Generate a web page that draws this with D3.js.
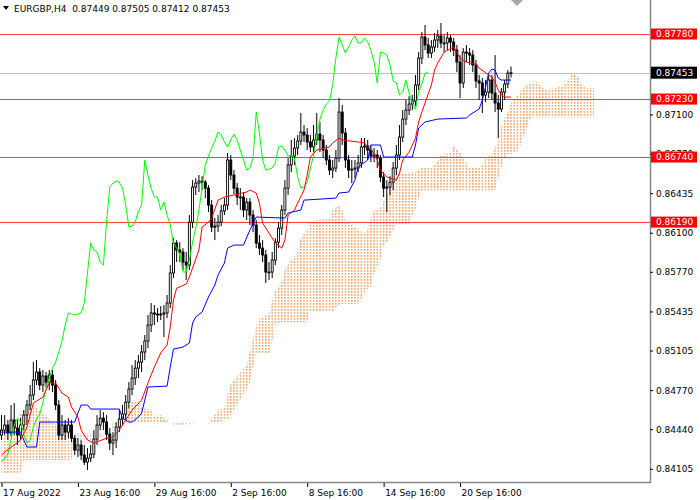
<!DOCTYPE html>
<html lang="en">
<head>
<meta charset="UTF-8">
<title>EURGBP,H4</title>
<script src="https://d3js.org/d3.v7.min.js"></script>
<style>
  body { margin: 0; background: #fff; }
  svg text { font-family: "DejaVu Sans", sans-serif; }
</style>
</head>
<body>
<div id="chart"></div>
<script>

// H4 candles, bar 0 = 17 Aug 2022 16:00 ... bar 160 = 23 Sep 08:00
var firstOpen = 0.84390;
var closes = [
  0.84432,0.84475,0.84407,0.84517,0.84449,0.84390,0.84475,0.84559,0.84644,0.84728,
  0.84855,0.84923,0.84813,0.84889,0.84838,0.84898,0.84813,0.84644,0.84390,0.84475,
  0.84415,0.84475,0.84364,0.84263,0.84306,0.84221,0.84162,0.84195,0.84229,0.84356,
  0.84475,0.84533,0.84500,0.84398,0.84323,0.84348,0.84458,0.84525,0.84567,0.84669,
  0.84779,0.84872,0.84956,0.85007,0.85092,0.85185,0.85320,0.85422,0.85413,0.85405,
  0.85413,0.85422,0.85506,0.85760,0.86013,0.85954,0.85937,0.85852,0.85827,0.86190,
  0.86486,0.86520,0.86537,0.86528,0.86477,0.86334,0.86148,0.86156,0.86190,0.86284,
  0.86334,0.86715,0.86588,0.86477,0.86402,0.86402,0.86292,0.86359,0.86250,0.86165,
  0.86013,0.85970,0.85912,0.85768,0.85768,0.85869,0.86021,0.86139,0.86292,0.86477,
  0.86673,0.86748,0.86816,0.86876,0.86951,0.86926,0.86867,0.86825,0.86884,0.86934,
  0.86884,0.86799,0.86715,0.86630,0.86647,0.86731,0.87120,0.86943,0.86715,0.86630,
  0.86638,0.86647,0.86690,0.86825,0.86833,0.86799,0.86748,0.86757,0.86731,0.86571,
  0.86477,0.86486,0.86528,0.86647,0.86757,0.86909,0.87061,0.87137,0.87188,0.87214,
  0.87349,0.87576,0.87754,0.87687,0.87619,0.87670,0.87729,0.87763,0.87704,0.87704,
  0.87746,0.87712,0.87644,0.87543,0.87366,0.87627,0.87619,0.87602,0.87518,0.87383,
  0.87366,0.87264,0.87289,0.87391,0.87281,0.87197,0.87145,0.87289,0.87357,0.87449,
  0.87453
];
var highs = [
  0.84559,0.84559,0.84517,0.84644,0.84661,0.84517,0.84533,0.84601,0.84686,0.84813,
  0.85007,0.85024,0.84956,0.84940,0.84923,0.84940,0.84940,0.84855,0.84686,0.84559,
  0.84517,0.84533,0.84517,0.84390,0.84364,0.84348,0.84306,0.84280,0.84306,0.84432,
  0.84559,0.84601,0.84584,0.84559,0.84449,0.84415,0.84500,0.84601,0.84644,0.84728,
  0.84838,0.84982,0.85024,0.85067,0.85151,0.85236,0.85405,0.85506,0.85489,0.85463,
  0.85480,0.85489,0.85574,0.85827,0.86055,0.86038,0.86021,0.85970,0.85937,0.86250,
  0.86545,0.86562,0.86588,0.86579,0.86545,0.86503,0.86376,0.86224,0.86250,0.86334,
  0.86393,0.86774,0.86757,0.86630,0.86520,0.86477,0.86444,0.86393,0.86393,0.86292,
  0.86207,0.86081,0.86038,0.85954,0.85852,0.85937,0.86055,0.86190,0.86334,0.86545,
  0.86731,0.86884,0.86900,0.86926,0.87112,0.87011,0.86985,0.86926,0.87011,0.87112,
  0.87036,0.86926,0.86842,0.86757,0.86715,0.86799,0.87238,0.87180,0.86985,0.86757,
  0.86715,0.86715,0.86757,0.86900,0.86900,0.86884,0.86842,0.86816,0.86799,0.86757,
  0.86613,0.86545,0.86579,0.86698,0.86842,0.87011,0.87137,0.87222,0.87255,0.87264,
  0.87433,0.87627,0.87796,0.87856,0.87746,0.87729,0.87788,0.87813,0.87873,0.87771,
  0.87796,0.87771,0.87746,0.87687,0.87602,0.87661,0.87687,0.87661,0.87644,0.87560,
  0.87433,0.87407,0.87391,0.87433,0.87433,0.87602,0.87264,0.87323,0.87391,0.87475,
  0.87505
];
var lows = [
  0.84348,0.84390,0.84348,0.84381,0.84390,0.84306,0.84348,0.84432,0.84475,0.84601,
  0.84686,0.84813,0.84770,0.84753,0.84787,0.84770,0.84753,0.84601,0.84348,0.84348,
  0.84348,0.84364,0.84331,0.84221,0.84204,0.84179,0.84137,0.84094,0.84162,0.84195,
  0.84306,0.84432,0.84432,0.84348,0.84263,0.84221,0.84280,0.84415,0.84475,0.84517,
  0.84618,0.84728,0.84813,0.84872,0.84923,0.85024,0.85125,0.85261,0.85320,0.85345,
  0.85362,0.85219,0.85379,0.85463,0.85717,0.85852,0.85852,0.85785,0.85700,0.85785,
  0.86139,0.86419,0.86444,0.86461,0.86393,0.86275,0.86106,0.86038,0.86106,0.86156,
  0.86250,0.86292,0.86545,0.86427,0.86334,0.86292,0.86233,0.86207,0.86165,0.86106,
  0.85970,0.85912,0.85852,0.85675,0.85700,0.85717,0.85827,0.85970,0.86081,0.86250,
  0.86419,0.86613,0.86673,0.86757,0.86842,0.86867,0.86799,0.86782,0.86782,0.86842,
  0.86782,0.86731,0.86673,0.86588,0.86562,0.86613,0.86698,0.86842,0.86647,0.86562,
  0.86520,0.86562,0.86613,0.86647,0.86757,0.86715,0.86698,0.86698,0.86647,0.86528,
  0.86402,0.86275,0.86419,0.86461,0.86588,0.86715,0.86867,0.87011,0.87095,0.87137,
  0.87171,0.87306,0.87526,0.87644,0.87576,0.87576,0.87627,0.87661,0.87661,0.87627,
  0.87644,0.87627,0.87593,0.87458,0.87238,0.87323,0.87543,0.87518,0.87458,0.87323,
  0.87222,0.87112,0.87205,0.87238,0.87222,0.87120,0.86900,0.87120,0.87222,0.87323,
  0.87412
];

// Ichimoku lines: [bar, price]
var tenkan = [[0,.84221],[1,.84246],[6,.84348],[8,.84458],[10,.84661],[13,.84711],[15,.84830],[17,.84830],
  [19,.84745],[21,.84711],[22,.84627],[24,.84542],[25,.84432],[27,.84348],[29,.84323],[33,.84364],[35,.84373],
  [37,.84432],[39,.84517],[41,.84601],[44,.84686],[46,.84830],[48,.84965],[50,.85084],[52,.85151],[53,.85303],
  [54,.85531],[55,.85632],[58,.85666],[59,.85726],[62,.85954],[63,.86148],[65,.86190],[66,.86224],[68,.86376],
  [70,.86402],[73,.86419],[77,.86444],[78,.86461],[80,.86436],[81,.86351],[82,.86182],[84,.86098],[86,.86013],
  [88,.85970],[89,.86038],[90,.86250],[92,.86292],[93,.86351],[95,.86461],[96,.86588],[97,.86740],[99,.86799],
  [103,.86825],[104,.86859],[106,.86900],[107,.86884],[112,.86867],[114,.86859],[115,.86825],[117,.86774],
  [118,.86715],[119,.86630],[121,.86571],[124,.86545],[125,.86605],[126,.86715],[128,.86782],[130,.86900],
  [131,.87036],[132,.87120],[133,.87197],[135,.87349],[136,.87475],[137,.87535],[139,.87627],[142,.87670],
  [144,.87576],[146,.87543],[149,.87526],[150,.87492],[153,.87433],[154,.87416],[155,.87374],[156,.87306],
  [157,.87264],[158,.87247],[160,.87247]];

var kijun = [[0,.84415],[6,.84415],[7,.84348],[8,.84289],[11,.84289],[12,.84500],[23,.84500],[24,.84576],
  [25,.84644],[27,.84644],[28,.84610],[37,.84610],[38,.84533],[40,.84500],[41,.84500],[43,.84542],[44,.84576],
  [45,.84686],[46,.84796],[52,.84804],[53,.84965],[54,.85117],[57,.85134],[59,.85168],[60,.85337],[61,.85388],
  [63,.85430],[65,.85557],[67,.85658],[68,.85743],[70,.85844],[71,.85970],[73,.85996],[76,.85996],[78,.86123],
  [80,.86233],[89,.86224],[90,.86267],[94,.86292],[95,.86376],[105,.86393],[106,.86436],[109,.86444],
  [111,.86545],[112,.86655],[115,.86715],[116,.86842],[119,.86842],[120,.86740],[129,.86740],[130,.86842],
  [131,.86985],[133,.87036],[137,.87061],[146,.87070],[147,.87095],[150,.87146],[151,.87222],[152,.87332],
  [153,.87450],[154,.87484],[155,.87475],[156,.87407],[157,.87391],[160,.87391]];

var spanA = [[0,.84432],[4,.84492],[6,.84576],[8,.84627],[10,.84644],[12,.84601],[14,.84559],[16,.84500],
  [18,.84458],[21,.84373],[23,.84348],[25,.84323],[32,.84381],[34,.84373],[36,.84475],[37,.84593],[39,.84601],
  [41,.84669],[43,.84669],[44,.84618],[47,.84601],[48,.84550],[50,.84559],[51,.84533],[53,.84492],[54,.84466],
  [59,.84483],[63,.84500],[65,.84483],[67,.84567],[70,.84627],[71,.84728],[72,.84821],[74,.84889],[76,.84948],
  [77,.84973],[78,.85100],[80,.85311],[81,.85379],[84,.85405],[85,.85531],[86,.85608],[88,.85683],[89,.85793],
  [91,.85869],[93,.85937],[94,.86055],[96,.86123],[97,.86190],[99,.86207],[103,.86216],[104,.86292],[106,.86334],
  [107,.86292],[108,.86207],[110,.86165],[112,.86123],[114,.86098],[115,.86131],[116,.86224],[117,.86284],
  [119,.86318],[121,.86419],[122,.86528],[124,.86588],[126,.86605],[130,.86613],[132,.86655],[135,.86655],
  [137,.86707],[138,.86757],[141,.86774],[142,.86833],[144,.86774],[145,.86731],[147,.86655],[150,.86647],
  [151,.86673],[152,.86731],[154,.86757],[156,.86876],[157,.87003],[158,.87070],[159,.87120],[160,.87197],
  [162,.87264],[163,.87298],[165,.87349],[168,.87374],[170,.87323],[171,.87306],[173,.87315],[175,.87332],
  [176,.87340],[178,.87391],[179,.87442],[180,.87450],[181,.87425],[182,.87357],[183,.87332],[184,.87323],
  [186,.87323]];

var spanB = [[0,.84069],[6,.84069],[7,.84179],[22,.84179],[23,.84407],[34,.84407],[35,.84492],[67,.84492],
  [71,.84517],[75,.84686],[78,.84830],[79,.84961],[80,.85075],[84,.85075],[85,.85172],[86,.85320],[87,.85330],
  [88,.85341],[96,.85341],[97,.85434],[104,.85434],[105,.85468],[106,.85485],[107,.85498],[112,.85498],
  [113,.85527],[114,.85595],[115,.85625],[116,.85646],[117,.85751],[118,.85815],[119,.85869],[120,.85992],
  [121,.86018],[122,.86068],[123,.86119],[124,.86165],[128,.86165],[129,.86245],[130,.86288],[131,.86393],
  [132,.86457],[155,.86457],[156,.86554],[157,.86651],[158,.86736],[159,.86766],[160,.86766],[161,.86779],
  [162,.86787],[163,.86842],[164,.86922],[165,.86977],[166,.87061],[167,.87074],[186,.87074]];

// horizontal levels and axis labels
var levels = [0.87780, 0.87230, 0.86740, 0.86190];
var lastPrice = 0.87453;
var priceTicks = [0.87100, 0.86770, 0.86435, 0.86100, 0.85770, 0.85435, 0.85105, 0.84770, 0.84440, 0.84105];
var timeTickBars = [0, 24, 48, 72, 96, 120, 144];
var timeTickLabels = ["17 Aug 2022", "23 Aug 16:00", "29 Aug 16:00", "2 Sep 16:00", "8 Sep 16:00", "14 Sep 16:00", "20 Sep 16:00"];
var header = "EURGBP,H4  0.87449 0.87505 0.87412 0.87453";

var W = 700, H = 500, plotRight = 650, plotBottom = 482;

var svg = d3.select("#chart").append("svg")
    .attr("width", W)
    .attr("height", H);

var x = d3.scaleLinear().domain([0, 160]).range([1.5, 511]);
var y = d3.scaleLinear().domain([0.84105, 0.87780]).range([468.8, 34]);
var step = x(1) - x(0);

var defs = svg.append("defs");
defs.append("clipPath").attr("id", "plot")
  .append("rect").attr("width", plotRight).attr("height", plotBottom);

// dotted hatch used by the cloud
function hatch(id, color) {
    var p = defs.append("pattern")
        .attr("id", id)
        .attr("patternUnits", "userSpaceOnUse")
        .attr("x", x(0) - 0.7)
        .attr("width", step)
        .attr("height", 3);
    p.append("rect").attr("width", 1.4).attr("height", 1.8).attr("fill", color);
}
hatch("dotsUp", "#F2A262");
hatch("dotsDown", "#D6B8D6");

var pt = function(d) { return [x(d[0]), y(d[1])]; };
var bPts = spanB.map(pt);
var xL = x(0) - 5, xR = x(186) + 5;
defs.append("clipPath").attr("id", "aboveB")
  .append("polygon").attr("points", [[xL, bPts[0][1]]].concat(bPts, [[xR, bPts[bPts.length-1][1]], [xR, -10], [xL, -10]]).join(" "));
defs.append("clipPath").attr("id", "belowB")
  .append("polygon").attr("points", [[xL, bPts[0][1]]].concat(bPts, [[xR, bPts[bPts.length-1][1]], [xR, 600], [xL, 600]]).join(" "));

var plot = svg.append("g").attr("clip-path", "url(#plot)");

// cloud: span A forward, span B back
var cloudPts = spanA.map(pt).concat(bPts.slice().reverse());
plot.append("g").attr("clip-path", "url(#aboveB)")
  .append("polygon").attr("points", cloudPts.join(" ")).attr("fill", "url(#dotsUp)");
plot.append("g").attr("clip-path", "url(#belowB)")
  .append("polygon").attr("points", cloudPts.join(" ")).attr("fill", "url(#dotsDown)");

// levels
plot.selectAll(".level").data(levels).enter().append("line")
    .attr("x1", 0).attr("x2", plotRight)
    .attr("y1", function(d) { return Math.round(y(d)) + 0.5; })
    .attr("y2", function(d) { return Math.round(y(d)) + 0.5; })
    .attr("stroke", "#ff2020").attr("stroke-opacity", 0.85);

plot.append("line")
    .attr("x1", 0).attr("x2", plotRight)
    .attr("y1", Math.round(y(lastPrice)) + 0.5).attr("y2", Math.round(y(lastPrice)) + 0.5)
    .attr("stroke", "#c0c0c0");

// candles
var bars = closes.map(function(c, i) {
    return {i: i, o: i === 0 ? firstOpen : closes[i - 1], h: highs[i], l: lows[i], c: c};
});
var cg = plot.append("g");
cg.selectAll(".wick").data(bars).enter().append("line")
    .attr("x1", function(d) { return x(d.i); })
    .attr("x2", function(d) { return x(d.i); })
    .attr("y1", function(d) { return y(d.h); })
    .attr("y2", function(d) { return y(d.l); })
    .attr("stroke", "#000").attr("stroke-width", 1);
cg.selectAll(".body").data(bars).enter().append("rect")
    .attr("x", function(d) { return x(d.i) - 1; })
    .attr("width", 2)
    .attr("y", function(d) { return y(Math.max(d.o, d.c)); })
    .attr("height", function(d) { return Math.max(0.8, Math.abs(y(d.o) - y(d.c))); })
    .attr("fill", function(d) { return d.c >= d.o ? "#fff" : "#000"; })
    .attr("stroke", "#000").attr("stroke-width", 0.9);

// ichimoku lines
var line = d3.line().x(function(d) { return x(d[0]); }).y(function(d) { return y(d[1]); });
var chikou = closes.slice(26).map(function(c, i) { return [i, c]; });

plot.append("path").attr("d", line(chikou)).attr("fill", "none").attr("stroke", "#00ff00").attr("stroke-width", 1);
plot.append("path").attr("d", line(kijun)).attr("fill", "none").attr("stroke", "#0000ff").attr("stroke-width", 1);
plot.append("path").attr("d", line(tenkan)).attr("fill", "none").attr("stroke", "#ff0000").attr("stroke-width", 1);

// frame
svg.append("line").attr("x1", plotRight + 0.5).attr("x2", plotRight + 0.5).attr("y1", 0).attr("y2", plotBottom + 1)
    .attr("stroke", "#888").attr("stroke-width", 1.5);
svg.append("line").attr("x1", 0).attr("x2", plotRight + 1).attr("y1", plotBottom + 0.5).attr("y2", plotBottom + 0.5)
    .attr("stroke", "#888").attr("stroke-width", 1.5);

// price axis
var yAxis = svg.append("g")
    .attr("transform", "translate(" + plotRight + ",0)")
    .call(d3.axisRight(y).tickValues(priceTicks).tickSize(3).tickPadding(3).tickFormat(d3.format(".5f")));
yAxis.select(".domain").remove();
yAxis.selectAll("text").attr("font-size", "9px").attr("font-family", "DejaVu Sans").attr("fill", "#000");
yAxis.selectAll("line").attr("stroke", "#000");

// level tags
var tags = svg.selectAll(".tag").data(levels).enter().append("g")
    .attr("transform", function(d) { return "translate(651," + y(d) + ")"; });
tags.append("rect").attr("x", 0).attr("y", -5.5).attr("width", 46).attr("height", 11).attr("fill", "#ff0000");
tags.append("text").attr("x", 5).attr("dy", "0.35em").attr("font-size", "9px").attr("fill", "#fff")
    .text(function(d) { return d3.format(".5f")(d); });

var lp = svg.append("g").attr("transform", "translate(651," + y(lastPrice) + ")");
lp.append("rect").attr("x", 0).attr("y", -6).attr("width", 46).attr("height", 12).attr("fill", "#000");
lp.append("text").attr("x", 5).attr("dy", "0.35em").attr("font-size", "9px").attr("fill", "#fff")
    .text(d3.format(".5f")(lastPrice));

// time axis
var xAxis = svg.append("g")
    .attr("transform", "translate(0," + (plotBottom + 1) + ")")
    .call(d3.axisBottom(x).tickValues(timeTickBars).tickSize(4).tickPadding(3)
        .tickFormat(function(d, i) { return timeTickLabels[i]; }));
xAxis.select(".domain").remove();
xAxis.selectAll("text").attr("font-size", "9px").attr("font-family", "DejaVu Sans")
    .attr("text-anchor", "start").attr("x", 1).attr("fill", "#000");
xAxis.selectAll("line").attr("stroke", "#000");

// header
svg.append("path").attr("d", "M3,6 L9,6 L6,10 Z").attr("fill", "#000");
svg.append("text").attr("x", 14).attr("y", 12).attr("font-size", "9px").attr("fill", "#000")
    .attr("xml:space", "preserve").style("white-space", "pre").text(header);

// shift marker
svg.append("path").attr("d", "M511,0 L523,0 L517,6 Z").attr("fill", "#a8a8a8");

</script>
</body>
</html>
